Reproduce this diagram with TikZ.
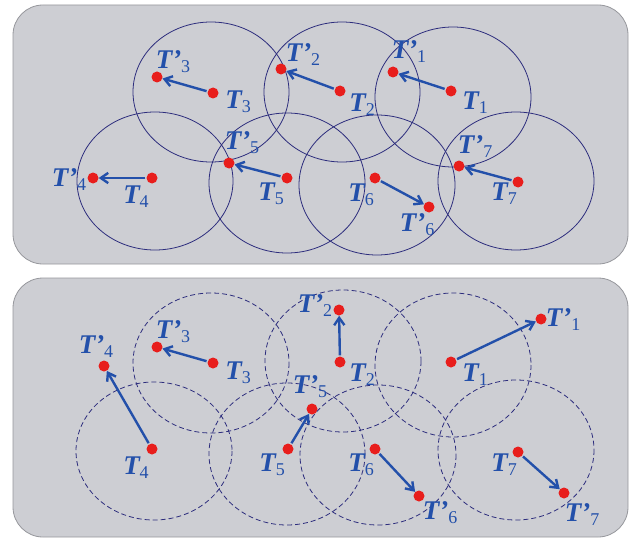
\documentclass[tikz,border=0pt]{standalone}
\usepackage{fontspec}
\setmainfont{Liberation Serif}
\usetikzlibrary{arrows.meta}
\usepackage{xcolor}
\definecolor{MoveBlue}{RGB}{35,80,170}
\definecolor{RangeNavy}{RGB}{45,45,125}
\definecolor{PanelGray}{RGB}{205,206,211}
\definecolor{PanelEdge}{RGB}{150,151,156}
\definecolor{DotRed}{RGB}{232,30,28}
\newcommand{\lowsub}[1]{\raisebox{-4pt}{\fontsize{18}{18}\selectfont\mdseries\upshape #1}}
\newcommand{\tlab}[1]{{\bfseries\itshape T}\lowsub{#1}}
\newcommand{\tplab}[1]{{\bfseries\itshape T’}\lowsub{#1}}

\begin{document}
\begin{tikzpicture}[
x=1pt,y=-1pt,
panel/.style={
    draw=PanelEdge,
    fill=PanelGray,
    rounded corners=30pt,
    line width=0.8pt
},
zone/.style={draw=RangeNavy,line width=0.8pt},
dashzone/.style={zone,dash pattern=on 5pt off 3pt},
dot/.style={
    circle,
    fill=DotRed,
    inner sep=0pt,
    minimum size=11pt
},
tag/.style={
    text=MoveBlue,
    inner sep=0pt,
    font=\fontsize{27}{27}\selectfont
},
arrow/.style={-{Straight Barb[length=2.6mm,width=3.6mm]},line width=2.4pt,draw=MoveBlue,shorten <=1pt}
]
\useasboundingbox (0,0) rectangle (636,540);

\draw[panel] (13,5) rectangle (628,264);
\draw[panel] (13,278) rectangle (628,537);

\draw[zone] (211,92) ellipse (78 and 70);
\draw[zone] (342,92) ellipse (78 and 70);
\draw[zone] (453,97) ellipse (78 and 70);
\draw[zone] (155,181) ellipse (78 and 69);
\draw[zone] (287,183) ellipse (78 and 70);
\draw[zone] (377,185) ellipse (78 and 70);
\draw[zone] (516,181) ellipse (78 and 69);

\draw[dashzone] (211,363) ellipse (78 and 70);
\draw[dashzone] (343,361) ellipse (78 and 71);
\draw[dashzone] (453,365) ellipse (78 and 72);
\draw[dashzone] (154,451) ellipse (78 and 69);
\draw[dashzone] (287,454) ellipse (78 and 71);
\draw[dashzone] (378,455) ellipse (78 and 70);
\draw[dashzone] (516,450) ellipse (78 and 70);

\node[dot] (a1) at (451,91) {};
\node[dot] (a1p) at (393,72) {};
\node[dot] (a2) at (340,91) {};
\node[dot] (a2p) at (281,69) {};
\node[dot] (a3) at (213,93) {};
\node[dot] (a3p) at (157,77) {};
\node[dot] (a4) at (152,178) {};
\node[dot] (a4p) at (93,178) {};
\node[dot] (a5) at (287,178) {};
\node[dot] (a5p) at (229,163) {};
\node[dot] (a6) at (375,178) {};
\node[dot] (a6p) at (429,207) {};
\node[dot] (a7) at (518,182) {};
\node[dot] (a7p) at (459,166) {};

\node[tag] (la1) at (475,103) {\tlab{1}};
\node[tag] (la1p) at (409,52) {\tplab{1}};
\node[tag] (la2) at (362,105) {\tlab{2}};
\node[tag] (la2p) at (303,55) {\tplab{2}};
\node[tag] (la3) at (238,102) {\tlab{3}};
\node[tag] (la3p) at (173,62) {\tplab{3}};
\node[tag] (la4) at (136,197) {\tlab{4}};
\node[tag] (la4p) at (69,180) {\tplab{4}};
\node[tag] (la5) at (271,194) {\tlab{5}};
\node[tag] (la5p) at (242,143) {\tplab{5}};
\node[tag] (la6) at (361,195) {\tlab{6}};
\node[tag] (la6p) at (417,225) {\tplab{6}};
\node[tag] (la7) at (504,194) {\tlab{7}};
\node[tag] (la7p) at (475,147) {\tplab{7}};

\draw[arrow] (a1)--(a1p);
\draw[arrow] (a2)--(a2p);
\draw[arrow] (a3)--(a3p);
\draw[arrow] (a4)--(a4p);
\draw[arrow] (a5)--(a5p);
\draw[arrow] (a6)--(a6p);
\draw[arrow] (a7)--(a7p);

\node[dot] (b1) at (451,362) {};
\node[dot] (b1p) at (541,319) {};
\node[dot] (b2) at (340,362) {};
\node[dot] (b2p) at (339,310) {};
\node[dot] (b3) at (213,363) {};
\node[dot] (b3p) at (157,347) {};
\node[dot] (b4) at (152,449) {};
\node[dot] (b4p) at (104,366) {};
\node[dot] (b5) at (288,449) {};
\node[dot] (b5p) at (312,409) {};
\node[dot] (b6) at (375,449) {};
\node[dot] (b6p) at (419,496) {};
\node[dot] (b7) at (518,452) {};
\node[dot] (b7p) at (564,493) {};

\node[tag] (lb1) at (475,375) {\tlab{1}};
\node[tag] (lb1p) at (563,320) {\tplab{1}};
\node[tag] (lb2) at (362,375) {\tlab{2}};
\node[tag] (lb2p) at (315,306) {\tplab{2}};
\node[tag] (lb3) at (238,373) {\tlab{3}};
\node[tag] (lb3p) at (173,332) {\tplab{3}};
\node[tag] (lb4) at (136,468) {\tlab{4}};
\node[tag] (lb4p) at (96,347) {\tplab{4}};
\node[tag] (lb5) at (272,465) {\tlab{5}};
\node[tag] (lb5p) at (310,387) {\tplab{5}};
\node[tag] (lb6) at (361,465) {\tlab{6}};
\node[tag] (lb6p) at (440,513) {\tplab{6}};
\node[tag] (lb7) at (504,465) {\tlab{7}};
\node[tag] (lb7p) at (582,515) {\tplab{7}};

\draw[arrow] (b1)--(b1p);
\draw[arrow] (b2)--(b2p);
\draw[arrow] (b3)--(b3p);
\draw[arrow] (b4)--(b4p);
\draw[arrow] (b5)--(b5p);
\draw[arrow] (b6)--(b6p);
\draw[arrow] (b7)--(b7p);

\end{tikzpicture}
\end{document}
